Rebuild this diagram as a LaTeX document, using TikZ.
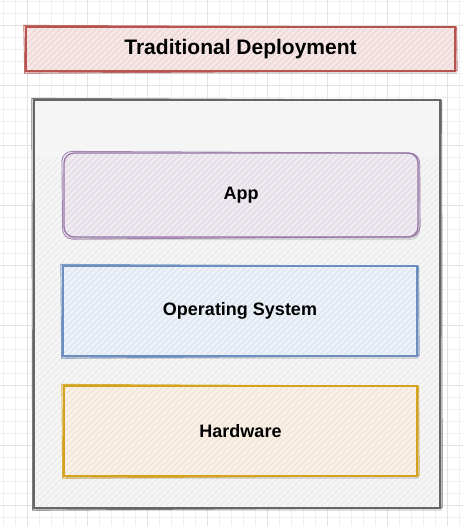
\documentclass[tikz,border=0pt]{standalone}
\usepackage{fontspec}
\setmainfont{Liberation Sans}
\usetikzlibrary{shadows}
\definecolor{gridmin}{HTML}{F0F0F0}
\definecolor{gridmaj}{HTML}{E2E2E2}
\definecolor{tfill}{HTML}{F8CECC}
\definecolor{tline}{HTML}{B85450}
\definecolor{ofill}{HTML}{F5F5F5}
\definecolor{oline}{HTML}{666666}
\definecolor{afill}{HTML}{E1D5E7}
\definecolor{aline}{HTML}{9673A6}
\definecolor{sfill}{HTML}{DAE8FC}
\definecolor{sline}{HTML}{6C8EBF}
\definecolor{hfill}{HTML}{FFE6CC}
\definecolor{hline}{HTML}{D4A21C}
\tikzset{
  hatch/.style={path picture={\foreach \i in {0,6,...,800}{\draw[#1,line width=0.6pt] ([xshift=\i pt-350pt]path picture bounding box.south west) -- ++(350pt,350pt);}}},
  sbox/.style 2 args={draw=#1, line width=1.3pt, fill=#2!35!ofill, hatch={#2!85!gray!90}, inner sep=0pt,
     drop shadow={shadow xshift=2pt, shadow yshift=-3pt, opacity=0.12, fill=black}},
  lbl/.style={font=\fontsize{18}{21}\selectfont\bfseries},
}
\newcommand\sketchline[3][]{\draw[#3,line width=0.9pt,opacity=0.85,#1] ([shift={(-1.5pt,1pt)}]#2.north west) -- ([shift={(1pt,-0.8pt)}]#2.north east) -- ([shift={(1.5pt,1pt)}]#2.south east) -- ([shift={(-0.7pt,-1.5pt)}]#2.south west) -- cycle;}
\begin{document}
\begin{tikzpicture}[x=1pt,y=-1pt]
\useasboundingbox (0,0) rectangle (463,526);
\fill[white] (0,0) rectangle (463,526);
\foreach \x in {3,15,...,463} \draw[gridmin,line width=0.6pt] (\x,0) -- (\x,526);
\foreach \y in {1,13,...,526} \draw[gridmin,line width=0.6pt] (0,\y) -- (463,\y);
\foreach \x in {27,87,...,463} \draw[gridmaj,line width=0.7pt] (\x,0) -- (\x,526);
\foreach \y in {25,85,...,526} \draw[gridmaj,line width=0.7pt] (0,\y) -- (463,\y);

\node[sbox={tline}{tfill}, minimum width=429pt, minimum height=44pt,
      font=\fontsize{21}{25}\selectfont\bfseries] (title) at (240.5,49) {Traditional Deployment};
\sketchline{title}{tline}

\node[draw=oline, line width=1.3pt, fill=ofill, hatch={gridmaj!80!ofill}, minimum width=406pt, minimum height=408pt, inner sep=0pt,
      drop shadow={shadow xshift=2pt, shadow yshift=-3pt, opacity=0.12, fill=black}] (outer) at (237,304) {};
\sketchline{outer}{oline}

\node[sbox={aline}{afill}, rounded corners=10pt, minimum width=354pt, minimum height=84pt, lbl] (app) at (241,195) {App};
\sketchline[rounded corners=10pt]{app}{aline}

\node[sbox={sline}{sfill}, minimum width=354pt, minimum height=90pt, lbl] (os) at (240,311) {Operating System};
\sketchline{os}{sline}

\node[sbox={hline}{hfill}, minimum width=353pt, minimum height=90pt, lbl] (hw) at (240.5,431) {Hardware};
\sketchline{hw}{hline}
\end{tikzpicture}
\end{document}
